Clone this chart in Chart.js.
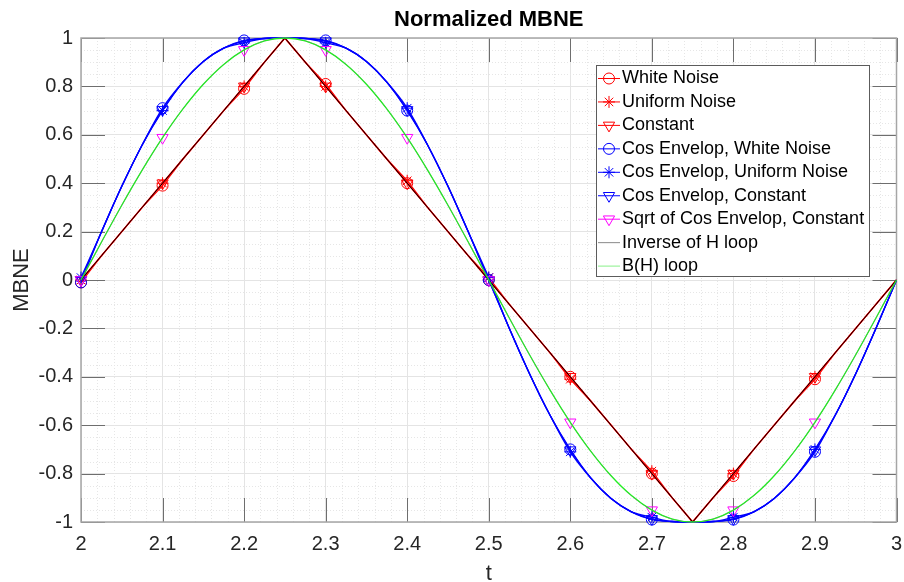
<!DOCTYPE html>
<html>
<head>
<meta charset="utf-8">
<script src="https://cdn.jsdelivr.net/npm/chart.js@4.4.0/dist/chart.umd.min.js"></script>
<style>
  html, body { margin: 0; padding: 0; background: #fff; }
</style>
</head>
<body>
<canvas id="chart" width="904" height="582"></canvas>
<script>
// ---- data ----
const titleText = 'Normalized MBNE';
const xTicks = [2, 2.1, 2.2, 2.3, 2.4, 2.5, 2.6, 2.7, 2.8, 2.9, 3];
const xTickLabels = ['2', '2.1', '2.2', '2.3', '2.4', '2.5', '2.6', '2.7', '2.8', '2.9', '3'];
const yTicks = [-1, -0.8, -0.6, -0.4, -0.2, 0, 0.2, 0.4, 0.6, 0.8, 1];
const yTickLabels = ['-1', '-0.8', '-0.6', '-0.4', '-0.2', '0', '0.2', '0.4', '0.6', '0.8', '1'];

// sample times of the curves (markers sit on every 4th sample, 2.0 .. 2.9)
const t = [2, 2.025, 2.05, 2.075, 2.1, 2.125, 2.15, 2.175, 2.2, 2.225, 2.25, 2.275, 2.3, 2.325, 2.35, 2.375, 2.4, 2.425, 2.45, 2.475,
           2.5, 2.525, 2.55, 2.575, 2.6, 2.625, 2.65, 2.675, 2.7, 2.725, 2.75, 2.775, 2.8, 2.825, 2.85, 2.875, 2.9, 2.925, 2.95, 2.975, 3];

// inverse of H loop (triangle), also the "Constant" series
const invH = [0, 0.1, 0.2, 0.3, 0.4, 0.5, 0.6, 0.7, 0.8, 0.9, 1, 0.9, 0.8, 0.7, 0.6, 0.5, 0.4, 0.3, 0.2, 0.1,
              0, -0.1, -0.2, -0.3, -0.4, -0.5, -0.6, -0.7, -0.8, -0.9, -1, -0.9, -0.8, -0.7, -0.6, -0.5, -0.4, -0.3, -0.2, -0.1, 0];
// cos envelop curve (blue)
const cosEnv = [0, 0.198, 0.387, 0.558, 0.703, 0.818, 0.903, 0.958, 0.987, 0.998, 1, 0.998, 0.987, 0.958, 0.903, 0.818, 0.703, 0.558, 0.387, 0.198,
                0, -0.198, -0.387, -0.558, -0.703, -0.818, -0.903, -0.958, -0.987, -0.998, -1, -0.998, -0.987, -0.958, -0.903, -0.818, -0.703, -0.558, -0.387, -0.198, 0];
// B(H) loop (green), sqrt of cos envelop sits on it
const bh = [0, 0.156, 0.309, 0.454, 0.588, 0.707, 0.809, 0.891, 0.951, 0.988, 1, 0.988, 0.951, 0.891, 0.809, 0.707, 0.588, 0.454, 0.309, 0.156,
            0, -0.156, -0.309, -0.454, -0.588, -0.707, -0.809, -0.891, -0.951, -0.988, -1, -0.988, -0.951, -0.891, -0.809, -0.707, -0.588, -0.454, -0.309, -0.156, 0];

// marker values at t = 2.0, 2.1, ... 2.9 for the noisy runs
const whiteNoiseMarks   = [-0.01, 0.39, 0.79, 0.81, 0.40, 0.00, -0.40, -0.80, -0.81, -0.41];
const uniformNoiseMarks = [0.00, 0.40, 0.80, 0.80, 0.41, 0.01, -0.41, -0.79, -0.80, -0.40];
const cosWhiteMarks     = [-0.01, 0.71, 0.99, 0.99, 0.70, 0.00, -0.70, -0.99, -0.99, -0.71];
const cosUniformMarks   = [0.01, 0.70, 0.98, 0.98, 0.71, 0.01, -0.71, -0.98, -0.98, -0.70];

const FONT = "'Liberation Sans', Arial, sans-serif";
const MARK_EVERY = 4;
const isMark = i => i % MARK_EVERY === 0 && i < t.length - 1;

function withMarks(base, marks) {
  return base.map((v, i) => isMark(i) ? marks[i / MARK_EVERY] : v);
}
function pts(vals) {
  return t.map((x, i) => ({ x: x, y: vals[i] }));
}

function series(label, vals, color, style, order, opts) {
  const r = style === 'circle' ? 5.5 : style === 'star' ? 6 : 6.5;
  return Object.assign({
    label: label,
    data: pts(vals),
    borderColor: color,
    legendColor: color,
    borderWidth: 1.3,
    pointStyle: style || false,
    pointRotation: style === 'triangle' ? 180 : 0,
    pointRadius: style ? t.map((x, i) => isMark(i) ? r : 0) : 0,
    legendRadius: r,
    pointBorderColor: color,
    pointBackgroundColor: 'rgba(0,0,0,0)',
    pointBorderWidth: 1,
    pointHoverRadius: 0,
    tension: 0,
    clip: false,
    order: order
  }, opts || {});
}

const smooth = { cubicInterpolationMode: 'monotone' };

const datasets = [
  series('White Noise', withMarks(invH, whiteNoiseMarks), '#ff0000', 'circle', 10),
  series('Uniform Noise', withMarks(invH, uniformNoiseMarks), '#ff0000', 'star', 9),
  series('Constant', invH, '#ff0000', 'triangle', 8),
  series('Cos Envelop, White Noise', withMarks(cosEnv, cosWhiteMarks), '#0000ff', 'circle', 7, smooth),
  series('Cos Envelop, Uniform Noise', withMarks(cosEnv, cosUniformMarks), '#0000ff', 'star', 6, smooth),
  series('Cos Envelop, Constant', cosEnv, '#0000ff', 'triangle', 5, smooth),
  series('Sqrt of Cos Envelop, Constant', bh, '#ff00ff', 'triangle', 4, Object.assign({ borderWidth: 0.8 }, smooth)),
  series('Inverse of H loop', invH, '#000000', null, 3, { borderWidth: 1, legendColor: '#8a8a8a' }),
  series('B(H) loop', bh, '#22ee22', null, 2, Object.assign({ borderWidth: 1.3, legendColor: '#88f088' }, smooth))
];

// minor dotted grid, box and inward ticks (MATLAB look)
const axesDecor = {
  id: 'axesDecor',
  beforeDatasetsDraw(chart) {
    const { ctx, chartArea: a, scales: { x, y } } = chart;
    ctx.save();
    ctx.strokeStyle = '#e6e6e6';
    ctx.lineWidth = 1;
    ctx.setLineDash([1, 2]);
    for (let k = 1; k < 50; k++) {
      if (k % 5 === 0) continue;
      const px = Math.round(x.getPixelForValue(2 + k * 0.02)) + 0.5;
      ctx.beginPath(); ctx.moveTo(px, a.top); ctx.lineTo(px, a.bottom); ctx.stroke();
    }
    for (let k = 1; k < 40; k++) {
      if (k % 4 === 0) continue;
      const py = Math.round(y.getPixelForValue(-1 + k * 0.05)) + 0.5;
      ctx.beginPath(); ctx.moveTo(a.left, py); ctx.lineTo(a.right, py); ctx.stroke();
    }
    ctx.setLineDash([]);
    ctx.strokeStyle = '#6e6e6e';
    ctx.lineWidth = 1;
    const TL = 24;
    xTicks.forEach(v => {
      const px = Math.round(x.getPixelForValue(v)) + 0.5;
      ctx.beginPath();
      ctx.moveTo(px, a.top); ctx.lineTo(px, a.top + TL);
      ctx.moveTo(px, a.bottom); ctx.lineTo(px, a.bottom - TL);
      ctx.stroke();
    });
    yTicks.forEach(v => {
      const py = Math.round(y.getPixelForValue(v)) + 0.5;
      ctx.beginPath();
      ctx.moveTo(a.left, py); ctx.lineTo(a.left + TL, py);
      ctx.moveTo(a.right, py); ctx.lineTo(a.right - TL, py);
      ctx.stroke();
    });
    ctx.strokeStyle = '#a6a6a6';
    ctx.lineWidth = 1.5;
    ctx.strokeRect(a.left, a.top, a.right - a.left, a.bottom - a.top);
    ctx.restore();
  }
};

// title + boxed legend inside the plot
const overlay = {
  id: 'overlay',
  afterDraw(chart) {
    const { ctx, chartArea: a } = chart;
    ctx.save();
    ctx.font = 'bold 22px ' + FONT;
    ctx.fillStyle = '#000';
    ctx.textAlign = 'center';
    ctx.textBaseline = 'alphabetic';
    ctx.fillText(titleText, (a.left + a.right) / 2, 26);

    const L = 596, T = 65, W = 273, H = 211, row = 23.45, y0 = 78.5;
    ctx.fillStyle = '#fff';
    ctx.fillRect(L, T, W, H);
    ctx.strokeStyle = '#5c5c5c';
    ctx.lineWidth = 1;
    ctx.strokeRect(L + 0.5, T + 0.5, W, H);
    ctx.textAlign = 'left';
    ctx.textBaseline = 'middle';
    ctx.font = '18px ' + FONT;
    chart.data.datasets.forEach((ds, i) => {
      const yy = y0 + i * row;
      ctx.strokeStyle = ds.legendColor;
      ctx.lineWidth = 1;
      ctx.beginPath(); ctx.moveTo(598, yy); ctx.lineTo(620, yy); ctx.stroke();
      if (ds.pointStyle && Chart.helpers && Chart.helpers.drawPoint) {
        ctx.fillStyle = 'rgba(0,0,0,0)';
        Chart.helpers.drawPoint(ctx, { pointStyle: ds.pointStyle, rotation: ds.pointRotation, radius: ds.legendRadius, borderWidth: 1 }, 609, yy);
      }
      ctx.fillStyle = '#000';
      ctx.fillText(ds.label, 622, yy);
    });
    ctx.restore();
  }
};

new Chart(document.getElementById('chart'), {
  type: 'line',
  data: { datasets: datasets },
  options: {
    responsive: false,
    animation: false,
    events: [],
    layout: { padding: { top: 38, right: 6, left: 0, bottom: 0 } },
    plugins: { legend: { display: false }, title: { display: false }, tooltip: { enabled: false } },
    scales: {
      x: {
        type: 'linear', min: 2, max: 3,
        afterBuildTicks: s => { s.ticks = xTicks.map(v => ({ value: v })); },
        afterFit: s => { s.height = 60; s.paddingLeft = 0; s.paddingRight = 0; },
        grid: { color: '#e4e4e4', drawTicks: false },
        border: { display: false },
        ticks: { font: { family: FONT, size: 20 }, color: '#262626', padding: 10, maxRotation: 0, autoSkip: false,
                 callback: (v, i) => xTickLabels[i] },
        title: { display: true, text: 't', color: '#262626', font: { family: FONT, size: 22, lineHeight: 0.7 }, padding: 0 }
      },
      y: {
        type: 'linear', min: -1, max: 1,
        afterBuildTicks: s => { s.ticks = yTicks.map(v => ({ value: v })); },
        afterFit: s => { s.width = 81; s.paddingTop = 0; s.paddingBottom = 0; },
        grid: { color: '#e4e4e4', drawTicks: false },
        border: { display: false },
        ticks: { font: { family: FONT, size: 20 }, color: '#262626', padding: 8, autoSkip: false,
                 callback: (v, i) => yTickLabels[i] },
        title: { display: true, text: 'MBNE', color: '#262626', font: { family: FONT, size: 22 }, padding: { top: 9 } }
      }
    }
  },
  plugins: [axesDecor, overlay]
});
</script>
</body>
</html>
